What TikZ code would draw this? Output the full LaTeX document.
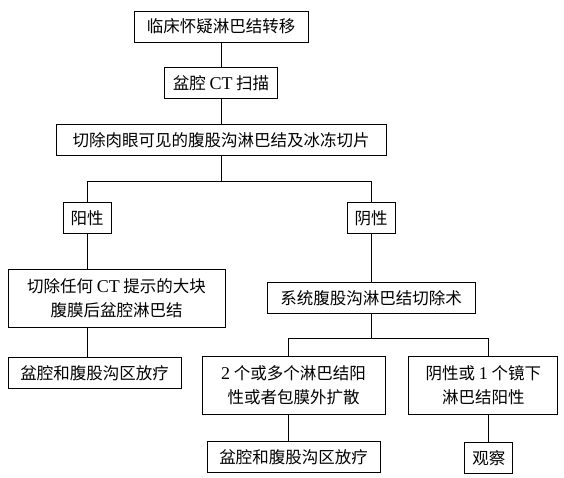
\documentclass[tikz,border=0pt]{standalone}
\usepackage{fontspec}
\setmainfont{Liberation Serif}
\newfontfamily\cjk{Noto Sans CJK SC}
\usetikzlibrary{positioning}
\newcommand\lat[1]{{\fontsize{18}{24}\rmfamily #1}}

\begin{document}
\begin{tikzpicture}[
  box/.style={draw,line width=0.9pt,align=center,inner sep=0pt,
    minimum height=31pt,font=\fontsize{16.5}{24}\cjk},
  tallbox/.style={box,minimum height=58pt},
  link/.style={line width=0.9pt}]
\useasboundingbox (0,0) rectangle (564pt,-477pt);
\node[box,minimum width=174pt](suspect) at (221pt,-26.5pt){临床怀疑淋巴结转移};
\node[box,minimum width=113pt,below=25pt of suspect](ct){盆腔 \lat{CT} 扫描};
\node[box,minimum width=330pt,below=25pt of ct](excise){切除肉眼可见的腹股沟淋巴结及冰冻切片};
\node[box,minimum width=48pt,below=46pt of excise,xshift=-134pt](pos){阳性};
\node[box,minimum width=48pt,below=46pt of excise,xshift=150pt](neg){阴性};
\node[tallbox,minimum width=217pt,below=35pt of pos,xshift=29.5pt](bulk){切除任何 \lat{CT} 提示的大块\\腹膜后盆腔淋巴结};
\node[box,minimum width=173pt,below=29pt of bulk,xshift=-22pt](radleft){盆腔和腹股沟区放疗};
\node[box,minimum width=208pt,below=48pt of neg](dissect){系统腹股沟淋巴结切除术};
\node[tallbox,minimum width=183pt,below=42pt of dissect,xshift=-77.5pt](many){\lat{2} 个或多个淋巴结阳\\性或者包膜外扩散};
\node[tallbox,minimum width=149pt,right=23pt of many](few){阴性或 \lat{1} 个镜下\\淋巴结阳性};
\node[box,minimum width=173pt,below=26pt of many](radright){盆腔和腹股沟区放疗};
\node[box,minimum width=48pt,below=27pt of few,xshift=5.5pt](watch){观察};

\draw[link](suspect)--(ct);
\draw[link](ct)--(excise);
\draw[link](excise.south)--++(0,-25pt) coordinate(split);
\draw[link](pos.north)|-(split)-|(neg.north);
\draw[link](pos.south)--(pos.south|-bulk.north);
\draw[link](bulk.south-|pos)--(radleft.north-|pos);
\draw[link](neg)--(dissect);
\draw[link](dissect.south)--++(0,-24pt) coordinate(fork);
\draw[link]([xshift=-5.5pt]many.north)|-(fork)-|([xshift=5.5pt]few.north);
\draw[link]([xshift=-5.5pt]many.south)--([xshift=-5.5pt]many.south|-radright.north);
\draw[link]([xshift=5.5pt]few.south)--(watch);
\end{tikzpicture}
\end{document}
